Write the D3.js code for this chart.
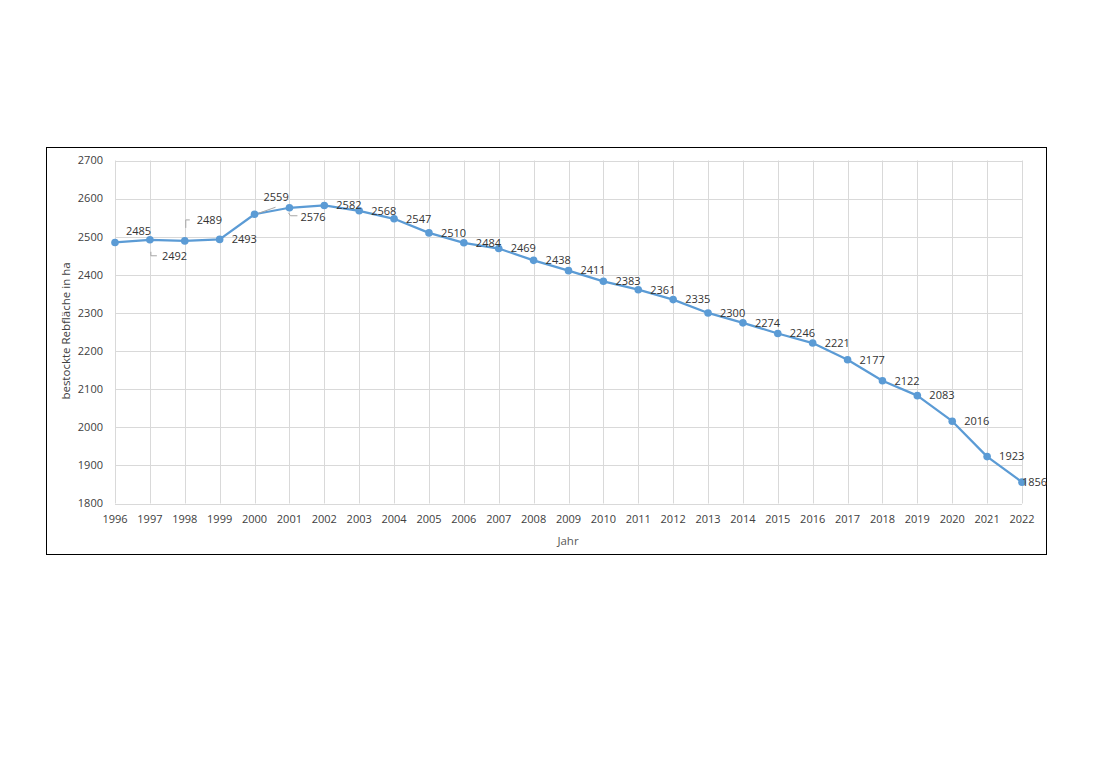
<!DOCTYPE html>
<html><head><meta charset="utf-8">
<script src="https://cdn.jsdelivr.net/npm/d3@7"></script>
<style>
html,body{margin:0;padding:0;background:#fff;}
svg{display:block;}
text{font-family:"Open Sans","Liberation Sans",sans-serif;}
</style></head>
<body>
<script>
const years = [1996,1997,1998,1999,2000,2001,2002,2003,2004,2005,2006,2007,2008,2009,2010,2011,2012,2013,2014,2015,2016,2017,2018,2019,2020,2021,2022];
const values = [2485,2492,2489,2493,2559,2576,2582,2568,2547,2510,2484,2469,2438,2411,2383,2361,2335,2300,2274,2246,2221,2177,2122,2083,2016,1923,1856];
const yTicks = [1800,1900,2000,2100,2200,2300,2400,2500,2600,2700];
const yTitle = "bestockte Rebfläche in ha";
const xTitle = "Jahr";

const W = 1096, H = 762;
const svg = d3.select("body").append("svg").attr("width", W).attr("height", H);

svg.append("rect").attr("x", 46.5).attr("y", 147.5).attr("width", 1000).attr("height", 407)
  .attr("fill", "#fff").attr("stroke", "#000").attr("stroke-width", 1);

const x = d3.scaleLinear().domain([years[0], years[years.length-1]]).range([115, 1022]);
const y = d3.scaleLinear().domain([1800, 2700]).range([503.5, 160.5]);

const grid = svg.append("g");
grid.selectAll("line.h").data(yTicks).join("line")
  .attr("x1", 115).attr("x2", 1022)
  .attr("y1", d => Math.round(y(d)) + 0.5).attr("y2", d => Math.round(y(d)) + 0.5)
  .attr("stroke", "#d9d9d9").attr("stroke-width", 1);
grid.selectAll("line.v").data(years).join("line")
  .attr("y1", y(2700)).attr("y2", y(1800))
  .attr("x1", d => Math.round(x(d)) + 0.5).attr("x2", d => Math.round(x(d)) + 0.5)
  .attr("stroke", "#d9d9d9").attr("stroke-width", 1);

// y tick labels
svg.append("g").selectAll("text").data(yTicks).join("text")
  .attr("x", 103).attr("y", d => y(d)).attr("dy", "0.35em")
  .attr("text-anchor", "end").attr("font-size", 11).attr("fill", "#404040")
  .text(d => d);

// x tick labels
svg.append("g").selectAll("text").data(years).join("text")
  .attr("x", d => x(d)).attr("y", 519).attr("dy", "0.35em")
  .attr("text-anchor", "middle").attr("font-size", 11).attr("fill", "#404040")
  .text(d => d);

// axis titles
svg.append("text").attr("transform", "translate(66,331) rotate(-90)")
  .attr("text-anchor", "middle").attr("dy", "0.35em")
  .attr("font-size", 11.5).attr("fill", "#404040").text(yTitle);
svg.append("text").attr("x", 568).attr("y", 541).attr("dy", "0.35em")
  .attr("text-anchor", "middle").attr("font-size", 11.5).attr("fill", "#595959").text(xTitle);

const data = years.map((yr, i) => ({yr, v: values[i]}));

// line
svg.append("path").datum(data)
  .attr("fill", "none").attr("stroke", "#5b9bd5").attr("stroke-width", 2.25)
  .attr("stroke-linejoin", "round")
  .attr("d", d3.line().x(d => x(d.yr)).y(d => y(d.v)));

// markers
svg.append("g").selectAll("circle").data(data).join("circle")
  .attr("cx", d => x(d.yr)).attr("cy", d => y(d.v)).attr("r", 3.8)
  .attr("fill", "#5b9bd5");

// label placement (style): offsets of text start / center from the point
const labelOffset = {
  1996: {dx: 11, dy: -11},
  1997: {dx: 12, dy: 16, leader: [[1, 12], [1, 16], [7, 16]]},
  1998: {dx: 12, dy: -21, leader: [[1, -13], [1, -21], [5, -21]]},
  2000: {dx: 9, dy: -17, leader: [[4, -1], [21, -7]]},
  2001: {dx: 11, dy: 9, leader: [[-1, 5], [1, 8], [8, 8]]},
  2022: {dx: 0, dy: 0}
};
const def = {dx: 12, dy: 0};

const lbl = svg.append("g");
data.forEach(d => {
  const o = labelOffset[d.yr] || def;
  const px = x(d.yr), py = y(d.v);
  if (o.leader) {
    lbl.append("path")
      .attr("d", d3.line()(o.leader.map(p => [px + p[0], py + p[1]])))
      .attr("fill", "none").attr("stroke", "#a6a6a6").attr("stroke-width", 1);
  }
  lbl.append("text").attr("x", px + o.dx).attr("y", py + o.dy).attr("dy", "0.35em")
    .attr("font-size", 11).attr("fill", "#333333").text(d.v);
});
</script>
</body></html>
